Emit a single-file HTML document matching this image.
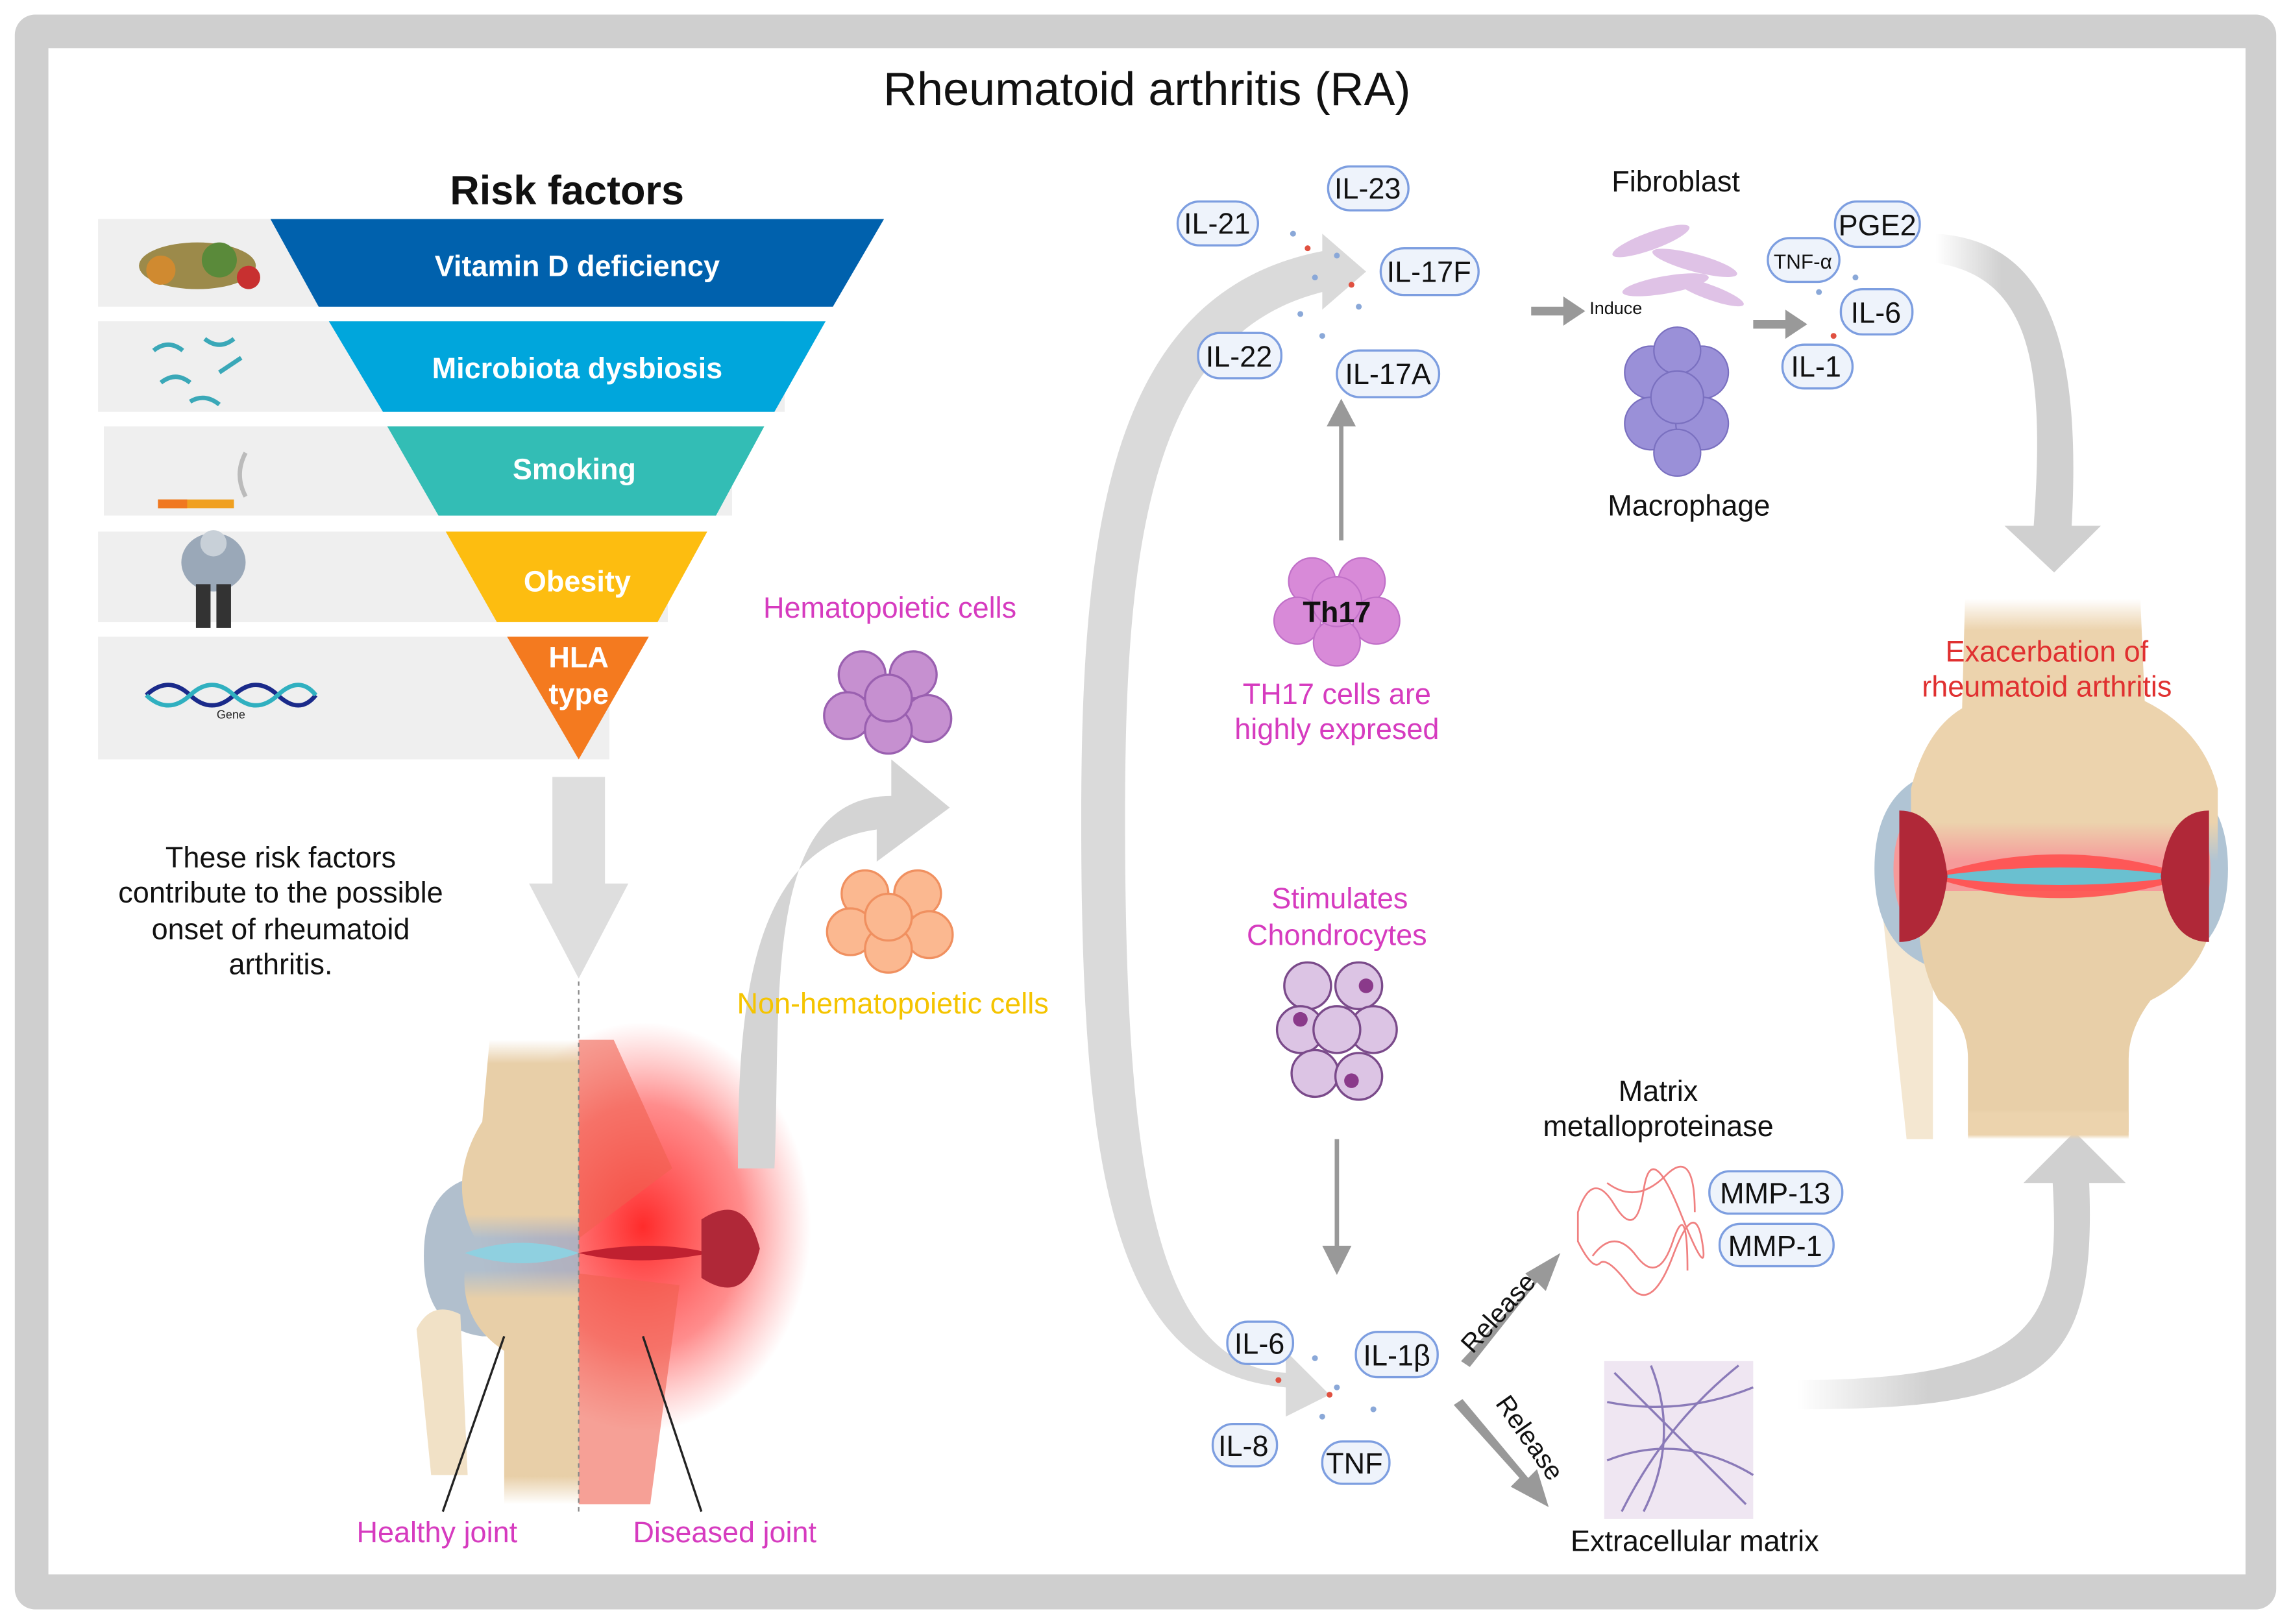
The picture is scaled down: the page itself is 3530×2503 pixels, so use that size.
<!DOCTYPE html>
<html><head><meta charset="utf-8"><style>
html,body{margin:0;padding:0;background:#fff}
svg{display:block}
text{font-family:"Liberation Sans",sans-serif}
</style></head><body>
<svg width="3530" height="2503" viewBox="0 0 1568 1112" xmlns="http://www.w3.org/2000/svg">
<defs>
<radialGradient id="glow" cx="0.5" cy="0.5" r="0.5"><stop offset="0" stop-color="#ff2020" stop-opacity="0.95"/><stop offset="0.6" stop-color="#ff4040" stop-opacity="0.6"/><stop offset="1" stop-color="#ff6060" stop-opacity="0"/></radialGradient>
<linearGradient id="fadeL" x1="0" x2="1"><stop offset="0" stop-color="#d0d0d0" stop-opacity="0"/><stop offset="0.4" stop-color="#d0d0d0"/></linearGradient>
<linearGradient id="boneV" x1="0" y1="0" x2="0" y2="1"><stop offset="0" stop-color="#ecd3ad" stop-opacity="0"/><stop offset="0.12" stop-color="#ecd3ad"/><stop offset="0.85" stop-color="#ecd3ad"/><stop offset="1" stop-color="#ecd3ad" stop-opacity="0"/></linearGradient>
<linearGradient id="boneL" x1="0" y1="0" x2="0" y2="1"><stop offset="0" stop-color="#e8cfa8" stop-opacity="0"/><stop offset="0.12" stop-color="#e8cfa8"/><stop offset="0.88" stop-color="#e8cfa8"/><stop offset="1" stop-color="#e8cfa8" stop-opacity="0"/></linearGradient>
</defs>
<rect x="0" y="0" width="1568" height="1112" fill="#fff"/>
<rect x="10" y="10" width="1548" height="1092" rx="14" fill="#cfcfcf"/>
<rect x="33" y="33" width="1504" height="1045" fill="#fff"/>
<text x="785" y="72" font-size="32" text-anchor="middle" fill="#111">Rheumatoid arthritis (RA)</text>
<text x="388" y="140" font-size="28" font-weight="bold" text-anchor="middle" fill="#111">Risk factors</text>
<rect x="67" y="150" width="500" height="60" fill="#efefef"/>
<rect x="67" y="220" width="470" height="62" fill="#efefef"/>
<rect x="71" y="292" width="430" height="61" fill="#efefef"/>
<rect x="67" y="364" width="390" height="62" fill="#efefef"/>
<rect x="67" y="436" width="350" height="84" fill="#efefef"/>
<polygon points="185,150 605,150 570,210 218,210" fill="#0061ad"/>
<polygon points="225,220 565,220 530,282 262,282" fill="#00a6dc"/>
<polygon points="265,292 523,292 490,353 300,353" fill="#33bdb5"/>
<polygon points="305,364 484,364 450,426 340,426" fill="#fdbd10"/>
<polygon points="347,436 444,436 396,520" fill="#f47a1f"/>
<g fill="#fff" font-weight="bold" font-size="20" text-anchor="middle">
<text x="395" y="189">Vitamin D deficiency</text>
<text x="395" y="259">Microbiota dysbiosis</text>
<text x="393" y="328">Smoking</text>
<text x="395" y="405">Obesity</text>
<text x="396" y="457">HLA</text><text x="396" y="482">type</text>
</g>
<g><ellipse cx="135" cy="182" rx="40" ry="16" fill="#9c8a4a"/><circle cx="110" cy="185" r="10" fill="#d08a30"/><circle cx="150" cy="178" r="12" fill="#5a8a3a"/><circle cx="170" cy="190" r="8" fill="#c83030"/></g>
<g stroke="#3aa8b8" stroke-width="3" fill="none"><path d="M105 240 q10 -8 20 0"/><path d="M140 232 q10 8 20 0"/><path d="M110 262 q10 -8 20 0"/><path d="M150 255 l15 -10"/><path d="M130 275 q10 -6 20 2"/></g>
<rect x="108" y="342" width="52" height="6" fill="#f0a020"/><rect x="108" y="342" width="20" height="6" fill="#f07820"/><path d="M168 340 q-8 -15 0 -30" stroke="#bbb" stroke-width="3" fill="none"/>
<g><ellipse cx="146" cy="385" rx="22" ry="20" fill="#9aa8b8"/><circle cx="146" cy="372" r="9" fill="#c8d0d8"/><rect x="134" y="400" width="10" height="30" fill="#333"/><rect x="148" y="400" width="10" height="30" fill="#333"/></g>
<path d="M100 476 q15 -14 30 0 t30 0 t30 0 t26 0" stroke="#1a2a8a" stroke-width="3" fill="none"/><path d="M100 476 q15 14 30 0 t30 0 t30 0 t26 0" stroke="#30b0c0" stroke-width="3" fill="none"/>
<text x="158" y="492" font-size="8" text-anchor="middle" fill="#222">Gene</text>
<polygon points="378,532 414,532 414,605 430,605 396,670 362,605 378,605" fill="#dedede"/>
<g font-size="20" text-anchor="middle" fill="#111">
<text x="192" y="594">These risk factors</text><text x="192" y="618">contribute to the possible</text><text x="192" y="643">onset of rheumatoid</text><text x="192" y="667">arthritis.</text></g>
<!-- left joint -->
<ellipse cx="440" cy="840" rx="115" ry="140" fill="url(#glow)"/>
<path d="M290 860 q0 -50 40 -55 l66 0 0 110 -66 0 q-40 -5 -40 -55z" fill="#a9b8c8" opacity="0.9"/>
<path d="M335 712 L396 712 L396 848 L325 848 q-20 -40 5 -80 z" fill="url(#boneL)"/>
<path d="M318 870 L396 870 L396 1030 L345 1030 L345 925 q-30 -20 -27 -55z" fill="url(#boneL)"/>
<path d="M285 910 q10 -20 30 -10 l5 110 -25 0 z" fill="#f1e1c6"/>
<path d="M396 712 L420 712 L460 800 L396 848z" fill="#f06050" opacity="0.6"/>
<path d="M396 872 L465 880 L445 1030 L396 1030z" fill="#f06050" opacity="0.6"/>
<path d="M318 858 q40 -14 78 0 q-38 14 -78 0z" fill="#8fd0e0"/>
<path d="M396 858 q50 -10 90 0 q-50 10 -90 0z" fill="#c02030"/>
<path d="M480 835 q30 -20 40 20 q-10 40 -40 20z" fill="#b02838"/>
<line x1="396" y1="672" x2="396" y2="1035" stroke="#888" stroke-dasharray="3,3"/>
<line x1="303" y1="1035" x2="345" y2="915" stroke="#222" stroke-width="1.5"/>
<line x1="480" y1="1035" x2="440" y2="915" stroke="#222" stroke-width="1.5"/>
<text x="299" y="1056" font-size="20" text-anchor="middle" fill="#d63bbf">Healthy joint</text>
<text x="496" y="1056" font-size="20" text-anchor="middle" fill="#d63bbf">Diseased joint</text>
<path d="M505 800 C505 700 510 580 600 568 L600 590 L650 553 L610 520 L610 545 C520 545 535 690 530 800z" fill="#d4d4d4"/>
<text x="609" y="423" font-size="20" text-anchor="middle" fill="#d63bbf">Hematopoietic cells</text>
<g fill="#c690d0" stroke="#9a60b0" stroke-width="1.5"><circle cx="590" cy="462" r="16"/><circle cx="625" cy="462" r="16"/><circle cx="580" cy="490" r="16"/><circle cx="635" cy="492" r="16"/><circle cx="608" cy="500" r="16"/><circle cx="608" cy="478" r="16"/></g>
<g fill="#fbb890" stroke="#f09060" stroke-width="1.5"><circle cx="592" cy="612" r="16"/><circle cx="628" cy="612" r="16"/><circle cx="582" cy="638" r="16"/><circle cx="636" cy="640" r="16"/><circle cx="608" cy="650" r="16"/><circle cx="608" cy="628" r="16"/></g>
<text x="611" y="694" font-size="20" text-anchor="middle" fill="#f5c400">Non-hematopoietic cells</text>
<path d="M905 172 C760 200 740 360 740 560 C740 800 760 940 880 950 L880 970 L910 955 L880 925 L880 940 C790 935 770 800 770 560 C770 380 785 230 905 200 L905 212 L935 186 L905 160z" fill="#d4d4d4" opacity="0.85"/>
<g font-size="20" text-anchor="middle" fill="#111">
<g stroke="#7d9ee0" stroke-width="1.5" fill="#eef3fb">
<rect x="806" y="138" width="55" height="30" rx="15"/><rect x="909" y="114" width="55" height="30" rx="15"/><rect x="945" y="170" width="67" height="32" rx="16"/><rect x="820" y="228" width="57" height="31" rx="15"/><rect x="915" y="240" width="70" height="32" rx="16"/>
<rect x="840" y="905" width="45" height="29" rx="14"/><rect x="928" y="912" width="56" height="31" rx="15"/><rect x="830" y="975" width="44" height="29" rx="14"/><rect x="905" y="987" width="46" height="29" rx="14"/>
<rect x="1210" y="163" width="49" height="30" rx="15"/><rect x="1256" y="138" width="58" height="31" rx="15"/><rect x="1260" y="198" width="49" height="31" rx="15"/><rect x="1220" y="236" width="48" height="30" rx="15"/>
<rect x="1170" y="802" width="91" height="29" rx="14"/><rect x="1177" y="838" width="78" height="29" rx="14"/>
</g>
<text x="833" y="160">IL-21</text><text x="936" y="136">IL-23</text><text x="978" y="193">IL-17F</text><text x="848" y="251">IL-22</text><text x="950" y="263">IL-17A</text>
<text x="862" y="927">IL-6</text><text x="956" y="935">IL-1β</text><text x="851" y="997">IL-8</text><text x="927" y="1009">TNF</text>
<text x="1234" y="184" font-size="14">TNF-α</text><text x="1285" y="161">PGE2</text><text x="1284" y="221">IL-6</text><text x="1243" y="258">IL-1</text>
<text x="1215" y="824">MMP-13</text><text x="1215" y="860">MMP-1</text>
</g>
<g fill="#8aa8d8"><circle cx="885" cy="160" r="2"/><circle cx="900" cy="190" r="2"/><circle cx="915" cy="175" r="2"/><circle cx="890" cy="215" r="2"/><circle cx="930" cy="210" r="2"/><circle cx="905" cy="230" r="2"/><circle cx="900" cy="930" r="2"/><circle cx="915" cy="950" r="2"/><circle cx="905" cy="970" r="2"/><circle cx="940" cy="965" r="2"/><circle cx="1245" cy="200" r="2"/><circle cx="1270" cy="190" r="2"/></g>
<g fill="#e05040"><circle cx="895" cy="170" r="2"/><circle cx="925" cy="195" r="2"/><circle cx="910" cy="955" r="2"/><circle cx="875" cy="945" r="2"/><circle cx="1255" cy="230" r="2"/></g>
<line x1="918" y1="370" x2="918" y2="290" stroke="#999" stroke-width="3"/><polygon points="908,292 928,292 918,273" fill="#999"/>
<g fill="#d88ad8" stroke="#c070c8" stroke-width="1"><circle cx="898" cy="398" r="16"/><circle cx="932" cy="398" r="16"/><circle cx="888" cy="425" r="16"/><circle cx="942" cy="425" r="16"/><circle cx="915" cy="440" r="16"/><circle cx="915" cy="412" r="17"/></g>
<text x="915" y="426" font-size="20" font-weight="bold" text-anchor="middle" fill="#111">Th17</text>
<g font-size="20" text-anchor="middle" fill="#d63bbf"><text x="915" y="482">TH17 cells are</text><text x="915" y="506">highly expresed</text>
<text x="917" y="622">Stimulates</text><text x="915" y="647">Chondrocytes</text></g>
<g fill="#dcc4e4" stroke="#7a4a8a" stroke-width="1.5"><circle cx="895" cy="675" r="16"/><circle cx="930" cy="675" r="16"/><circle cx="890" cy="705" r="16"/><circle cx="940" cy="705" r="16"/><circle cx="900" cy="735" r="16"/><circle cx="930" cy="737" r="16"/><circle cx="915" cy="705" r="16"/></g>
<g fill="#8a3a8a"><circle cx="890" cy="698" r="5"/><circle cx="925" cy="740" r="5"/><circle cx="935" cy="675" r="5"/></g>
<line x1="915" y1="780" x2="915" y2="855" stroke="#999" stroke-width="3"/><polygon points="905,853 925,853 915,873" fill="#999"/>
<polygon points="1000,932 1050,878 1044,872 1068,858 1058,884 1052,878 1006,936" fill="#999"/>
<polygon points="995,962 1040,1012 1034,1018 1060,1032 1052,1006 1046,1012 1001,958" fill="#999"/>
<text x="1030" y="903" font-size="18" text-anchor="middle" fill="#111" transform="rotate(-48 1030 903)">Release</text>
<text x="1042" y="988" font-size="18" text-anchor="middle" fill="#111" transform="rotate(55 1042 988)">Release</text>
<g font-size="20" text-anchor="middle" fill="#111"><text x="1135" y="754">Matrix</text><text x="1135" y="778">metalloproteinase</text>
<text x="1160" y="1062">Extracellular matrix</text><text x="1147" y="131">Fibroblast</text><text x="1156" y="353">Macrophage</text></g>
<g stroke="#f08080" stroke-width="1.2" fill="none"><path d="M1080 830 q10 -30 25 -5 t20 -10 t25 15 t15 20 t-20 10 t-30 20 t-20 -15 t-15 -15z"/><path d="M1090 860 q15 -20 30 0 t25 -10 t10 20"/><path d="M1100 810 q20 15 40 -5 t20 25"/></g>
<rect x="1098" y="932" width="102" height="108" fill="#efe6f2"/>
<g stroke="#8a7ab8" stroke-width="1.5" fill="none"><path d="M1100 960 q50 10 100 -10"/><path d="M1110 1035 q30 -60 80 -100"/><path d="M1105 940 q40 40 90 90"/><path d="M1100 1000 q50 -20 100 10"/><path d="M1130 935 q20 50 -5 100"/></g>
<g fill="#d8b4e0" opacity="0.8"><ellipse cx="1130" cy="165" rx="28" ry="6" transform="rotate(-20 1130 165)"/><ellipse cx="1160" cy="180" rx="30" ry="6" transform="rotate(15 1160 180)"/><ellipse cx="1140" cy="195" rx="30" ry="6" transform="rotate(-10 1140 195)"/><ellipse cx="1170" cy="200" rx="25" ry="5" transform="rotate(20 1170 200)"/></g>
<g fill="#9a90d8" stroke="#7a70c0"><circle cx="1130" cy="255" r="18"/><circle cx="1165" cy="255" r="18"/><circle cx="1130" cy="290" r="18"/><circle cx="1165" cy="290" r="18"/><circle cx="1148" cy="310" r="16"/><circle cx="1148" cy="240" r="16"/><circle cx="1148" cy="272" r="18"/></g>
<polygon points="1048,210 1070,210 1070,203 1085,213 1070,223 1070,216 1048,216" fill="#999"/>
<text x="1106" y="215" font-size="12" text-anchor="middle" fill="#111">Induce</text>
<polygon points="1200,219 1222,219 1222,212 1237,222 1222,232 1222,225 1200,225" fill="#999"/>
<path d="M1325 180 C1390 190 1400 250 1392 360 L1372 360 L1406 392 L1438 360 L1418 360 C1425 230 1400 165 1325 160z" fill="url(#fadeL)"/>
<path d="M1230 945 C1400 945 1410 900 1405 810 L1385 810 L1420 775 L1455 810 L1430 810 C1435 940 1400 965 1230 965z" fill="url(#fadeL)"/>
<!-- right joint -->
<path d="M1288 620 q25 10 35 10 l0 150 -18 0 z" fill="#f1e1c6" opacity="0.8"/>
<path d="M1283 595 q0 -65 60 -70 l120 0 q62 5 62 70 q0 65 -62 72 l-120 0 q-60 -7 -60 -72z" fill="#b0c4d4"/>
<path d="M1296 595 q0 -50 47 -55 l120 0 q50 5 50 55 q0 52 -50 58 l-120 0 q-47 -6 -47 -58z" fill="#f69a9a"/>
<path d="M1345 410 L1465 410 L1468 480 q40 20 50 60 l0 50 -210 0 0 -50 q10 -40 35 -55 z" fill="url(#boneV)"/>
<path d="M1312 610 l200 0 0 30 q-10 30 -40 45 q-15 20 -15 40 l0 50 -110 0 0 -50 q0 -25 -20 -40 q-15 -25 -15 -75z" fill="#e8cfa8"/>
<rect x="1347" y="760" width="110" height="20" fill="url(#boneV)"/>
<path d="M1320 600 q90 -30 180 0 q-90 30 -180 0z" fill="#ff5050" opacity="0.9"/>
<path d="M1325 600 q85 -12 170 0 q-85 12 -170 0z" fill="#6ac0d0"/>
<path d="M1300 555 q28 0 33 45 q-5 45 -33 45z" fill="#b02838"/><path d="M1512 555 q-28 0 -33 45 q5 45 33 45z" fill="#b02838"/>
<g font-size="20" text-anchor="middle" fill="#e03030"><text x="1401" y="453">Exacerbation of</text><text x="1401" y="477">rheumatoid arthritis</text></g>
</svg>
</body></html>
